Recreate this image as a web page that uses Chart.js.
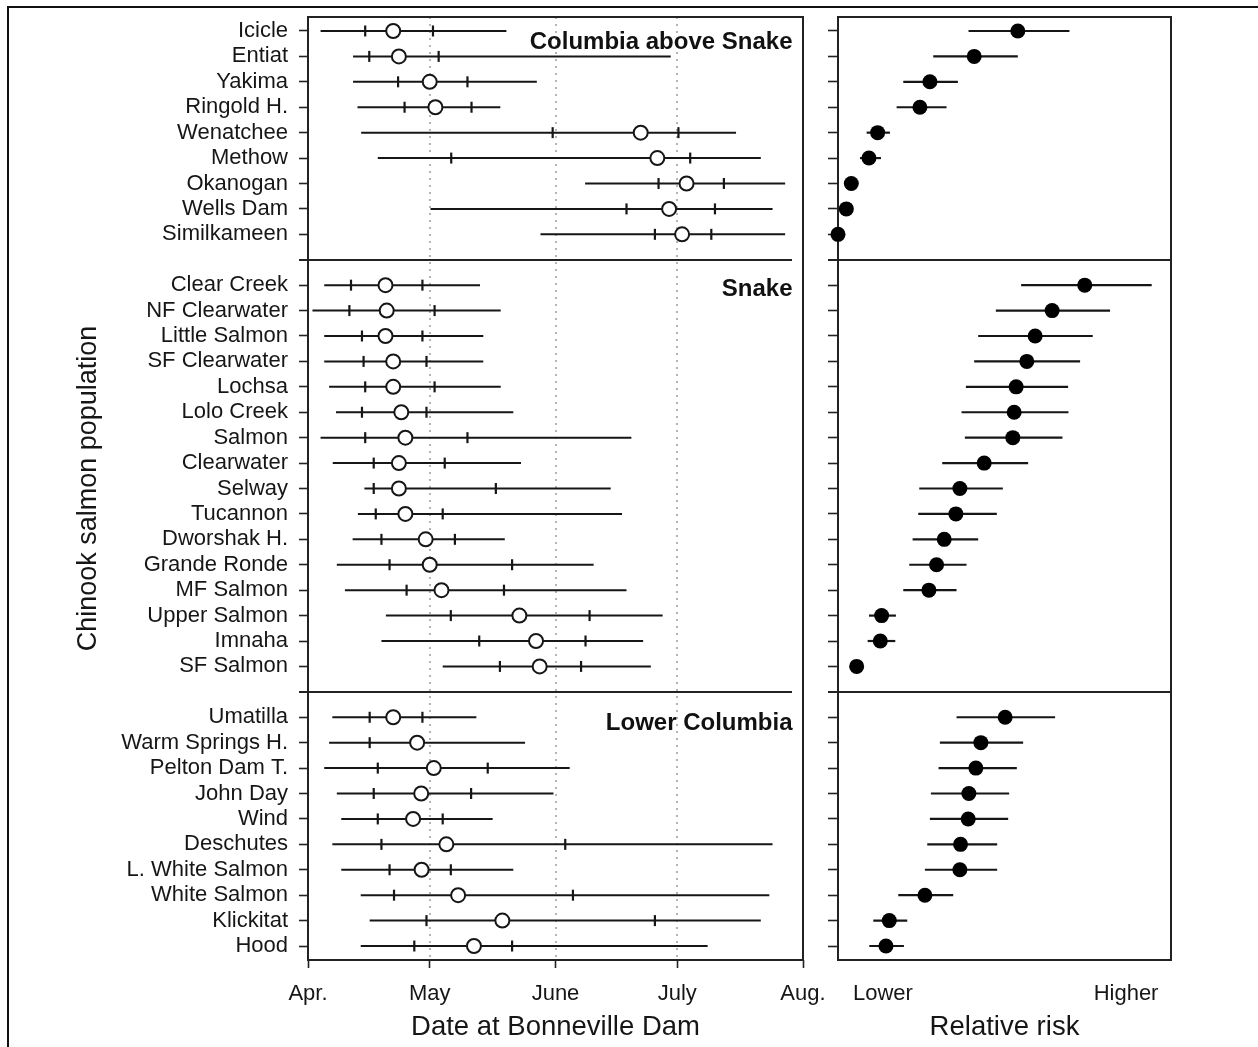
<!DOCTYPE html>
<html>
<head>
<meta charset="utf-8">
<title>Chinook salmon passage timing and relative risk</title>
<script src="https://cdn.jsdelivr.net/npm/chart.js@4.4.0/dist/chart.umd.min.js"></script>
<style>
  html, body { margin: 0; padding: 0; background: #fff; }
  body { width: 1258px; height: 1047px; position: relative; overflow: hidden; }
  #frame { position: absolute; left: 7px; top: 6px; width: 1400px; height: 1200px;
           border: 2px solid #111; box-sizing: border-box; }
  #timing { position: absolute; left: 0; top: 0; }
  #risk { position: absolute; left: 820px; top: 0; }
</style>
</head>
<body>
<div id="frame"></div>
<canvas id="timing" width="840" height="1047"></canvas>
<canvas id="risk" width="438" height="1047"></canvas>
<script>
// ---- populations, grouped by region (top to bottom) ----
const populations = [
  'Icicle', 'Entiat', 'Yakima', 'Ringold H.', 'Wenatchee', 'Methow', 'Okanogan', 'Wells Dam', 'Similkameen',
  'Clear Creek', 'NF Clearwater', 'Little Salmon', 'SF Clearwater', 'Lochsa', 'Lolo Creek', 'Salmon',
  'Clearwater', 'Selway', 'Tucannon', 'Dworshak H.', 'Grande Ronde', 'MF Salmon', 'Upper Salmon', 'Imnaha', 'SF Salmon',
  'Umatilla', 'Warm Springs H.', 'Pelton Dam T.', 'John Day', 'Wind', 'Deschutes', 'L. White Salmon',
  'White Salmon', 'Klickitat', 'Hood'
];
const groupNames = ['Columbia above Snake', 'Snake', 'Lower Columbia'];
const groupSizes = [9, 16, 10];

// ---- date axis (days after 1 April) ----
const monthLabels = ['Apr.', 'May', 'June', 'July', 'Aug.'];
const monthStartDays = [0, 30, 61, 91, 122];

// ---- passage dates at Bonneville Dam (days after 1 April) ----
const passageStart = [
  3.1, 11.1, 11.1, 12.2, 13.1, 17.2, 68.3, 30.2, 57.3,
  4.0, 1.1, 4.0, 4.0, 5.2, 6.9, 3.1, 6.1, 13.9, 12.3, 11.0, 7.1, 9.1, 19.2, 18.1, 33.2,
  6.0, 5.2, 4.0, 7.1, 8.2, 6.0, 8.2, 13.0, 15.2, 13.0
];
const passageLower = [
  14.1, 15.1, 22.2, 23.8, 60.3, 35.3, 86.4, 78.5, 85.5,
  10.6, 10.2, 13.3, 13.7, 14.1, 13.3, 14.1, 16.2, 16.2, 16.7, 18.1, 20.1, 24.3, 35.2, 42.2, 47.3,
  15.2, 15.2, 17.2, 16.2, 17.2, 18.1, 20.1, 21.2, 29.2, 26.2
];
const passageMedian = [
  21.0, 22.4, 30.0, 31.4, 82.0, 86.1, 93.3, 89.0, 92.2,
  19.1, 19.4, 19.1, 21.0, 21.0, 23.0, 24.0, 22.4, 22.4, 24.0, 29.0, 30.0, 32.9, 52.1, 56.2, 57.1,
  21.0, 26.9, 31.0, 27.9, 25.9, 34.1, 28.0, 37.0, 47.9, 40.9
];
const passageUpper = [
  30.8, 32.2, 39.3, 40.3, 91.3, 94.2, 102.5, 100.3, 99.4,
  28.2, 31.2, 28.2, 29.2, 31.2, 29.2, 39.3, 33.7, 46.3, 33.2, 36.2, 50.3, 48.3, 69.4, 68.4, 67.3,
  28.2, 27.6, 44.3, 40.2, 33.2, 63.4, 35.2, 65.3, 85.5, 50.3
];
const passageEnd = [
  48.9, 89.4, 56.4, 47.4, 105.5, 111.6, 117.6, 114.5, 117.6,
  42.4, 47.5, 43.2, 43.2, 47.5, 50.6, 79.7, 52.5, 74.6, 77.4, 48.5, 70.4, 78.5, 87.4, 82.6, 84.5,
  41.5, 53.5, 64.5, 60.5, 45.5, 114.5, 50.6, 113.7, 111.6, 98.5
];

// ---- relative risk (0 = lowest, 100 = highest), estimate with interval ----
const riskEstimate = [
  54.0, 40.9, 27.6, 24.6, 11.9, 9.3, 4.0, 2.5, 0.0,
  74.1, 64.3, 59.2, 56.7, 53.5, 52.9, 52.5, 43.9, 36.6, 35.4, 31.9, 29.6, 27.3, 13.1, 12.7, 5.6,
  50.2, 42.9, 41.4, 39.3, 39.1, 36.8, 36.6, 26.1, 15.4, 14.4
];
const riskLower = [
  39.2, 28.6, 19.6, 17.6, 8.6, 6.6, 3.0, 1.0, 0.0,
  55.0, 47.4, 42.1, 40.9, 38.4, 37.1, 38.1, 31.3, 24.4, 24.1, 22.4, 21.4, 19.6, 9.3, 8.9, 5.0,
  35.6, 30.6, 30.2, 27.9, 27.6, 26.8, 26.1, 18.1, 10.6, 9.4
];
const riskUpper = [
  69.5, 54.0, 36.0, 32.6, 15.6, 12.9, 5.0, 4.0, 0.5,
  94.2, 81.7, 76.5, 72.7, 69.1, 69.2, 67.4, 57.1, 49.5, 47.7, 42.1, 38.6, 35.6, 17.4, 17.2, 6.2,
  65.2, 55.6, 53.7, 51.4, 51.1, 47.8, 47.8, 34.6, 20.8, 19.8
];
const riskTickLabels = ['Lower', 'Higher'];
const riskTickValues = [13.5, 86.5];

// ---- row layout: one empty slot between regions ----
const rowSlot = [];
const groupFirstSlot = [];
const dividerSlots = [];
(function () {
  let s = 0;
  groupSizes.forEach((n, g) => {
    groupFirstSlot.push(s);
    for (let i = 0; i < n; i++) rowSlot.push(s++);
    if (g < groupSizes.length - 1) dividerSlots.push(s);
    s++;
  });
})();
const lastSlot = rowSlot[rowSlot.length - 1];

const INK = '#161616';
const FONT = "'Liberation Sans', Arial, Helvetica, sans-serif";
Chart.defaults.font.family = FONT;
Chart.defaults.color = INK;
Chart.defaults.animation = false;

function noAxisPadding(sc) {
  sc.paddingLeft = 0; sc.paddingRight = 0; sc.paddingTop = 0; sc.paddingBottom = 0;
}

function rowAxis(showLabels, width, tickLength) {
  return {
    type: 'linear', reverse: true, min: -0.55, max: lastSlot + 0.55,
    afterBuildTicks: sc => { sc.ticks = rowSlot.map(v => ({ value: v })); },
    afterFit: sc => { sc.width = width; noAxisPadding(sc); },
    ticks: {
      display: showLabels, autoSkip: false, padding: 11,
      font: { size: 22 }, color: INK,
      callback: (v, i) => populations[i]
    },
    grid: { drawOnChartArea: false, drawTicks: true, tickLength: tickLength, tickWidth: 1.6, tickColor: '#222' },
    border: { display: false }
  };
}

// frame, dotted month guides, region dividers and region names
const panelDecor = {
  id: 'panelDecor',
  beforeDatasetsDraw(chart, args, opts) {
    const { ctx, chartArea: a, scales } = chart;
    ctx.save();
    if (opts.guides) {
      ctx.strokeStyle = '#9c9c9c';
      ctx.lineWidth = 1.5;
      ctx.setLineDash([2, 5]);
      opts.guides.forEach(v => {
        const x = Math.round(scales.x.getPixelForValue(v));
        ctx.beginPath(); ctx.moveTo(x, a.top); ctx.lineTo(x, a.bottom); ctx.stroke();
      });
      ctx.setLineDash([]);
    }
    ctx.strokeStyle = '#222';
    ctx.lineWidth = 2;
    ctx.strokeRect(a.left, a.top, a.right - a.left, a.bottom - a.top);
    dividerSlots.forEach(sl => {
      const y = Math.round(scales.y.getPixelForValue(sl));
      ctx.beginPath(); ctx.moveTo(a.left - opts.tick, y); ctx.lineTo(a.right - opts.inset, y); ctx.stroke();
    });
    ctx.restore();
  },
  afterDatasetsDraw(chart, args, opts) {
    if (!opts.titles) return;
    const { ctx, chartArea: a, scales } = chart;
    ctx.save();
    ctx.font = 'bold 24px ' + FONT;
    ctx.fillStyle = '#111';
    ctx.textAlign = 'right';
    ctx.textBaseline = 'middle';
    groupNames.forEach((name, g) => {
      const y = scales.y.getPixelForValue(groupFirstSlot[g] + opts.titleOffsets[g]);
      ctx.fillText(name, a.right - 10.5, y);
    });
    ctx.restore();
  }
};

// ---- left panel: passage timing ----
const rangeSets = populations.map((p, i) => ({
  label: p,
  data: [{ x: passageStart[i], y: rowSlot[i] }, { x: passageEnd[i], y: rowSlot[i] }],
  showLine: true, borderColor: INK, borderWidth: 2, pointRadius: 0, order: 3
}));
const quartileSet = {
  label: 'quartiles',
  data: populations.flatMap((p, i) => [
    { x: passageLower[i], y: rowSlot[i] }, { x: passageUpper[i], y: rowSlot[i] }
  ]),
  pointStyle: 'line', pointRotation: 90, pointRadius: 5.5,
  pointBorderWidth: 2.2, pointBorderColor: INK, order: 2
};
const medianSet = {
  label: 'median',
  data: populations.map((p, i) => ({ x: passageMedian[i], y: rowSlot[i] })),
  pointStyle: 'circle', pointRadius: 7, pointBorderWidth: 2,
  pointBorderColor: INK, pointBackgroundColor: '#fff', order: 1
};

new Chart(document.getElementById('timing'), {
  type: 'scatter',
  data: { datasets: [medianSet, quartileSet, ...rangeSets] },
  options: {
    responsive: false, events: [],
    layout: { padding: { top: 17, right: 37, bottom: 0, left: 0 } },
    plugins: {
      legend: { display: false }, tooltip: { enabled: false },
      panelDecor: { guides: monthStartDays.slice(1, -1), tick: 9, inset: 11, titles: true, titleOffsets: [0.43, 0.15, 0.25] }
    },
    scales: {
      x: {
        type: 'linear', min: monthStartDays[0], max: monthStartDays[monthStartDays.length - 1],
        afterBuildTicks: sc => { sc.ticks = monthStartDays.map(v => ({ value: v })); },
        afterFit: sc => { sc.height = 87; noAxisPadding(sc); },
        ticks: { autoSkip: false, maxRotation: 0, padding: 13, font: { size: 22 }, color: INK,
                 callback: (v, i) => monthLabels[i] },
        grid: { drawOnChartArea: false, tickLength: 8, tickWidth: 1.6, tickColor: '#222' },
        border: { display: false },
        title: { display: true, text: 'Date at Bonneville Dam', font: { size: 27.5 }, color: INK,
                 padding: { top: 0, bottom: 3 } }
      },
      y: Object.assign(rowAxis(true, 308, 9), {
        title: { display: true, text: 'Chinook salmon population', font: { size: 27 }, color: INK,
                 padding: { top: 72, bottom: 0 } }
      })
    }
  },
  plugins: [panelDecor]
});

// ---- right panel: relative risk ----
const riskLineSets = populations.map((p, i) => ({
  label: p,
  data: [{ x: riskLower[i], y: rowSlot[i] }, { x: riskUpper[i], y: rowSlot[i] }],
  showLine: true, borderColor: INK, borderWidth: 2.2, pointRadius: 0, order: 2
}));
const riskPointSet = {
  label: 'relative risk',
  data: populations.map((p, i) => ({ x: riskEstimate[i], y: rowSlot[i] })),
  pointStyle: 'circle', pointRadius: 7.5, pointBorderWidth: 0,
  pointBackgroundColor: '#000', pointBorderColor: '#000', clip: false, order: 1
};

new Chart(document.getElementById('risk'), {
  type: 'scatter',
  data: { datasets: [riskPointSet, ...riskLineSets] },
  options: {
    responsive: false, events: [],
    layout: { padding: { top: 17, right: 87, bottom: 0, left: 0 } },
    plugins: {
      legend: { display: false }, tooltip: { enabled: false },
      panelDecor: { guides: null, tick: 10, inset: 0, titles: false }
    },
    scales: {
      x: {
        type: 'linear', min: 0, max: 100,
        afterBuildTicks: sc => { sc.ticks = riskTickValues.map(v => ({ value: v })); },
        afterFit: sc => { sc.height = 87; noAxisPadding(sc); },
        ticks: { autoSkip: false, maxRotation: 0, padding: 21, font: { size: 22 }, color: INK,
                 callback: (v, i) => riskTickLabels[i] },
        grid: { display: false, drawTicks: false },
        border: { display: false },
        title: { display: true, text: 'Relative risk', font: { size: 27.5 }, color: INK,
                 padding: { top: 0, bottom: 3 } }
      },
      y: rowAxis(false, 18, 10)
    }
  },
  plugins: [panelDecor]
});
</script>
</body>
</html>
